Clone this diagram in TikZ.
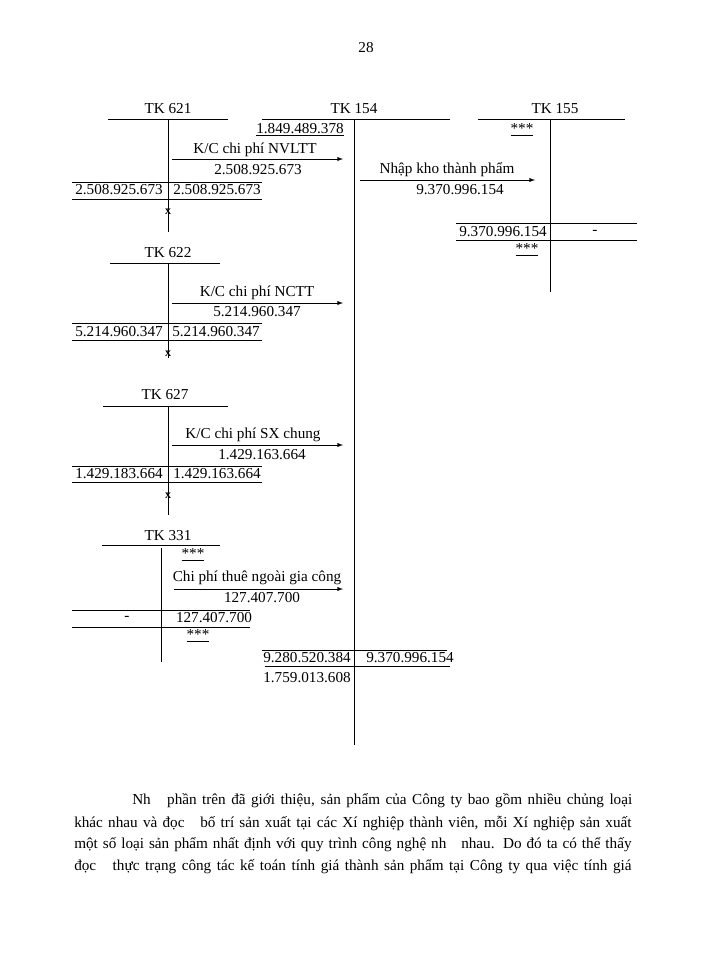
\documentclass[tikz,border=0pt]{standalone}
\usepackage{fontspec}
\setmainfont{Liberation Serif}
\begin{document}
\begin{tikzpicture}[x=0.75pt,y=-0.75pt,
  every node/.style={inner sep=0pt,font=\fontsize{11.4pt}{13pt}\selectfont},
  ln/.style={line width=0.5pt},
  arr/.style={line width=0.5pt,-latex},
  xm/.style={font=\fontsize{9pt}{9pt}\selectfont\bfseries}]
\useasboundingbox (0,0) rectangle (700,960);
\node (pg) at (366,48) {28};
% TK 621
\node (t621) at (168,109) {TK 621};
\draw[ln] (108,119) -- (228,119); \draw[ln] (168,119) -- (168,232);
\coordinate (a1s) at (172,159); \coordinate (a1e) at (343,159);
\draw[arr] (a1s) -- (a1e);
\node (l1) at (255,150) {K/C chi phí NVLTT};
\node (v1) at (258,170) {2.508.925.673};
\draw[ln] (72,182) -- (262,182); \draw[ln] (72,199) -- (262,199);
\node (r1a) at (119,190) {2.508.925.673};
\node (r1b) at (217,190) {2.508.925.673};
\node[xm] (x1) at (168,212) {x};
% TK 154
\node (t154) at (354,109) {TK 154};
\draw[ln] (262,119) -- (450,119); \draw[ln] (354,119) -- (354,745);
\node (o154) at (300,130) {\underline{1.849.489.378}};
\coordinate (a2s) at (360,180); \coordinate (a2e) at (535,180);
\draw[arr] (a2s) -- (a2e);
\node (l2) at (447,170) {Nhập kho thành phẩm};
\node (v2) at (460,190) {9.370.996.154};
% TK 155
\node (t155) at (555,109) {TK 155};
\draw[ln] (478,119) -- (625,119); \draw[ln] (550,119) -- (550,292);
\node (s155a) at (522,130) {\underline{***}};
\draw[ln] (456,223) -- (637,223); \draw[ln] (456,240) -- (637,240);
\node (r155a) at (503,232) {9.370.996.154};
\node (r155b) at (595,232) {-};
\node (s155b) at (527,250) {\underline{***}};
% TK 622
\node (t622) at (168,253) {TK 622};
\draw[ln] (110,263) -- (220,263); \draw[ln] (168,263) -- (168,358);
\coordinate (a3s) at (172,303); \coordinate (a3e) at (343,303);
\draw[arr] (a3s) -- (a3e);
\node (l3) at (257,293) {K/C chi phí NCTT};
\node (v3) at (257,312) {5.214.960.347};
\draw[ln] (72,323) -- (262,323); \draw[ln] (72,340) -- (262,340);
\node (r3a) at (119,332) {5.214.960.347};
\node (r3b) at (216,332) {5.214.960.347};
\node[xm] (x3) at (168,354) {x};
% TK 627
\node (t627) at (165,395) {TK 627};
\draw[ln] (103,406) -- (228,406); \draw[ln] (168,406) -- (168,515);
\coordinate (a4s) at (172,445); \coordinate (a4e) at (343,445);
\draw[arr] (a4s) -- (a4e);
\node (l4) at (253,435) {K/C chi phí SX chung};
\node (v4) at (262,455) {1.429.163.664};
\draw[ln] (72,466) -- (262,466); \draw[ln] (72,482) -- (262,482);
\node (r4a) at (119,474) {1.429.183.664};
\node (r4b) at (217,474) {1.429.163.664};
\node[xm] (x4) at (168,496) {x};
% TK 331
\node (t331) at (168,536) {TK 331};
\draw[ln] (102,545) -- (220,545); \draw[ln] (161,548) -- (161,662);
\node (s331a) at (193,555) {\underline{***}};
\coordinate (a5s) at (174,589); \coordinate (a5e) at (343,589);
\draw[arr] (a5s) -- (a5e);
\node (l5) at (257,578) {Chi phí thuê ngoài gia công};
\node (v5) at (262,598) {127.407.700};
\draw[ln] (72,610) -- (250,610); \draw[ln] (72,627) -- (250,627);
\node (r5a) at (127,618) {-};
\node (r5b) at (214,618) {127.407.700};
\node (s331b) at (198,636) {\underline{***}};
% TK 154 totals
\draw[ln] (262,650) -- (447,650); \draw[ln] (265,666) -- (450,666);
\node (r6a) at (307,658) {9.280.520.384};
\node (r6b) at (410,658) {9.370.996.154};
\node (r6c) at (307,678) {1.759.013.608};
% paragraph
\node[anchor=west] (p1) at (132,801) {\makebox[375pt][s]{Nh\ \ \ phần trên đã giới thiệu, sản phẩm của Công ty bao gồm nhiều chủng loại}};
\node[anchor=west] (p2) at (74,823) {\makebox[418pt][s]{khác nhau và đọc\ \ \ bố trí sản xuất tại các Xí nghiệp thành viên, mỗi Xí nghiệp sản xuất}};
\node[anchor=west] (p3) at (74,845) {\makebox[418pt][s]{một số loại sản phẩm nhất định với quy trình công nghệ nh\ \ \ nhau. Do đó ta có thể thấy}};
\node[anchor=west] (p4) at (74,867) {\makebox[418pt][s]{đọc\ \ \ thực trạng công tác kế toán tính giá thành sản phẩm tại Công ty qua việc tính giá}};
\end{tikzpicture}
\end{document}
